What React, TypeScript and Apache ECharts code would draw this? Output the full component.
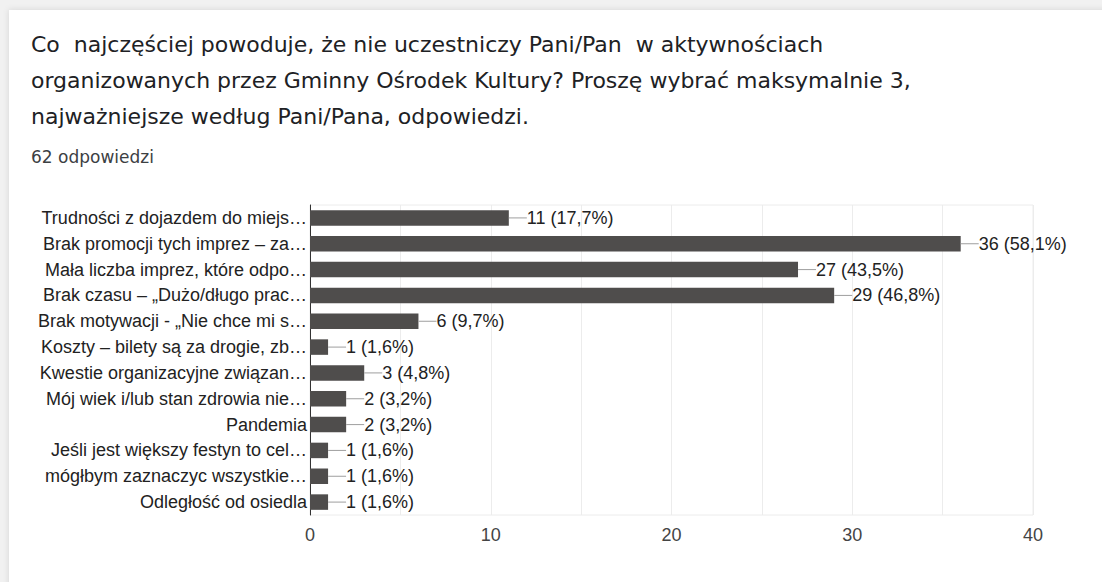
import React, { useEffect, useRef } from "react";
import * as echarts from "echarts";

const titleLines = [
  "Co  najczęściej powoduje, że nie uczestniczy Pani/Pan  w aktywnościach",
  "organizowanych przez Gminny Ośrodek Kultury? Proszę wybrać maksymalnie 3,",
  "najważniejsze według Pani/Pana, odpowiedzi.",
];
const subtitle = "62 odpowiedzi";

const categories = [
  "Trudności z dojazdem do miejs…",
  "Brak promocji tych imprez – za…",
  "Mała liczba imprez, które odpo…",
  "Brak czasu – „Dużo/długo prac…",
  "Brak motywacji - „Nie chce mi s…",
  "Koszty – bilety są za drogie, zb…",
  "Kwestie organizacyjne związan…",
  "Mój wiek i/lub stan zdrowia nie…",
  "Pandemia",
  "Jeśli jest większy festyn to cel…",
  "mógłbym zaznaczyc wszystkie…",
  "Odległość od osiedla",
];
const counts = [11, 36, 27, 29, 6, 1, 3, 2, 2, 1, 1, 1];
const percents = ["17,7%", "58,1%", "43,5%", "46,8%", "9,7%", "1,6%", "4,8%", "3,2%", "3,2%", "1,6%", "1,6%", "1,6%"];
const xTicks = [0, 10, 20, 30, 40];

export default function App() {
  const ref = useRef<HTMLDivElement>(null);
  useEffect(() => {
    if (!ref.current) return;
    const chart = echarts.init(ref.current, null, { renderer: "svg" });
    const titleFont = "'DejaVu Sans', 'Open Sans', sans-serif";
    const axisFont = "Arial, 'Liberation Sans', sans-serif";
    chart.setOption({
      animation: false,
      backgroundColor: "#f1f1f1",
      graphic: [
        {
          type: "rect",
          shape: { x: 9, y: 10, width: 1200, height: 700 },
          style: { fill: "#ffffff", shadowBlur: 6, shadowColor: "rgba(0,0,0,0.12)" },
          z: -10,
        },
        ...titleLines.map((t, i) => ({
          type: "text",
          x: 31,
          y: 44 + i * 36,
          style: {
            text: t,
            fill: "#202124",
            font: `400 22px ${titleFont}`,
            textVerticalAlign: "middle",
          },
        })),
        {
          type: "text",
          x: 31,
          y: 157,
          style: {
            text: subtitle,
            fill: "#3c4043",
            font: `400 17px ${titleFont}`,
            textVerticalAlign: "middle",
          },
        },
      ],
      grid: {
        left: 310,
        top: 205,
        width: 723,
        height: 310,
        show: true,
        borderColor: "#ececec",
        borderWidth: 1,
        containLabel: false,
      },
      xAxis: {
        type: "value",
        min: 0,
        max: 40,
        interval: 5,
        axisLine: { show: false },
        axisTick: { show: false },
        splitLine: { show: true, lineStyle: { color: "#ececec", width: 1 } },
        axisLabel: {
          color: "#444444",
          fontFamily: axisFont,
          fontSize: 18,
          margin: 11,
          formatter: (v: number) => (xTicks.includes(v) ? String(v) : ""),
        },
      },
      yAxis: {
        type: "category",
        data: categories,
        inverse: true,
        axisLine: { show: true, lineStyle: { color: "#333333", width: 1 } },
        axisTick: { show: false },
        axisLabel: {
          color: "#222222",
          fontFamily: axisFont,
          fontSize: 18,
          margin: 3,
        },
      },
      series: [
        {
          type: "bar",
          data: counts,
          barCategoryGap: "40%",
          itemStyle: { color: "#4f4d4c" },
          label: {
            show: true,
            position: "right",
            distance: 0,
            formatter: (p: any) => `{l| }${counts[p.dataIndex]} (${percents[p.dataIndex]})`,
            color: "#222222",
            fontFamily: axisFont,
            fontSize: 18,
            rich: {
              l: {
                width: 18,
                height: 1,
                backgroundColor: "#9e9e9e",
                fontSize: 1,
                lineHeight: 1,
                padding: 0,
              },
            },
          },
        },
      ],
    });
    return () => chart.dispose();
  }, []);
  return (
    <div
      ref={ref}
      style={{ position: "fixed", left: 0, top: 0, width: 1102, height: 582 }}
    />
  );
}
